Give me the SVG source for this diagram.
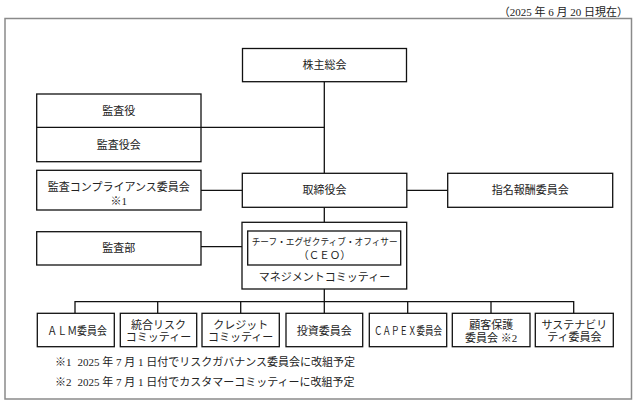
<svg xmlns="http://www.w3.org/2000/svg" width="638" height="404" viewBox="0 0 638 404">
<style>
.bx{fill:#fff;stroke:#111;stroke-width:1.3}
.ln{fill:none;stroke:#111;stroke-width:1.3}
.fr{fill:#fff;stroke:#8a8a8a;stroke-width:1.5}
text{font-family:"Liberation Serif","Noto Sans CJK JP",serif;font-size:11px;fill:#222}
.c{text-anchor:middle}
.j{font-family:"Noto Sans CJK JP",sans-serif}
</style>
<rect width="638" height="404" fill="#fff"/>
<text x="628" y="15.5" text-anchor="end">（2025 年 6 月 20 日現在）</text>
<rect class="fr" x="5" y="18.5" width="626.5" height="380.5"/>

<g id="connectors">
<path class="ln" d="M324.3 81.7V173.3M324.3 207.3V222.3M324.3 289V313.3"/>
<path class="ln" d="M201 127.3H324.3"/>
<path class="ln" d="M201 190.3H242.3M406.8 190.3H447.7"/>
<path class="ln" d="M201 246.7H247.7"/>
<path class="ln" d="M75 313.3V301.7H573.7V313.3M157.7 301.7V313.3M240.7 301.7V313.3M407.7 301.7V313.3M491 301.7V313.3"/>
</g>

<g id="kabunushi">
<rect class="bx" x="242.5" y="48.5" width="164" height="33.2"/>
<text class="c" x="324.5" y="69">株主総会</text>
</g>

<g id="kansayaku">
<rect class="bx" x="36.7" y="94" width="164.3" height="67.7"/>
<path class="ln" d="M36.7 127.3H201"/>
<text class="c" x="118.8" y="115">監査役</text>
<text class="c" x="118.8" y="148.5">監査役会</text>
</g>

<g id="compliance">
<rect class="bx" x="36.7" y="170.3" width="164.3" height="39.7"/>
<text class="c" x="118.8" y="190.5">監査コンプライアンス委員会</text>
<text class="c" x="118.8" y="205"><tspan class="j">※</tspan>1</text>
</g>

<g id="torishimariyaku">
<rect class="bx" x="242.3" y="173.3" width="164.5" height="34"/>
<text class="c" x="324.5" y="194.3">取締役会</text>
</g>

<g id="shimei">
<rect class="bx" x="447.7" y="173.3" width="165" height="34"/>
<text class="c" x="530.2" y="194.3">指名報酬委員会</text>
</g>

<g id="kansabu">
<rect class="bx" x="36.7" y="231.7" width="164.3" height="33.3"/>
<text class="c" x="118.8" y="252">監査部</text>
</g>

<g id="management">
<rect class="bx" x="242" y="222.3" width="164.7" height="66.7"/>
<rect class="bx" x="247.7" y="231" width="153" height="34"/>
<text x="251.7" y="245" style="font-size:9px" textLength="146" lengthAdjust="spacingAndGlyphs">チーフ・エグゼクティブ・オフィサー</text>
<text class="c" x="324.5" y="259" style="font-size:10.5px">（ＣＥＯ）</text>
<text class="c" x="324.5" y="281.3">マネジメントコミッティー</text>
</g>

<g id="alm">
<rect class="bx" x="37.3" y="313.3" width="77" height="33.4"/>
<text x="47.3" y="334.5" textLength="59.5" lengthAdjust="spacingAndGlyphs">ＡＬＭ委員会</text>
</g>

<g id="togo">
<rect class="bx" x="120.3" y="313.3" width="76.4" height="33.4"/>
<text class="c" x="158.5" y="329">統合リスク</text>
<text class="c" x="158.5" y="341">コミッティー</text>
</g>

<g id="credit">
<rect class="bx" x="202" y="313.3" width="77.3" height="33.4"/>
<text class="c" x="240.7" y="329">クレジット</text>
<text class="c" x="240.7" y="341">コミッティー</text>
</g>

<g id="toshi">
<rect class="bx" x="286" y="313.3" width="76.7" height="33.4"/>
<text class="c" x="324.3" y="334.5">投資委員会</text>
</g>

<g id="capex">
<rect class="bx" x="369.3" y="313.3" width="77.4" height="33.4"/>
<text x="374" y="334.5" textLength="68" lengthAdjust="spacingAndGlyphs">ＣＡＰＥＸ委員会</text>
</g>

<g id="kokyaku">
<rect class="bx" x="452.3" y="313.3" width="77.7" height="33.4"/>
<text class="c" x="491.2" y="328.5">顧客保護</text>
<text class="c" x="491.2" y="342">委員会 <tspan class="j">※</tspan>2</text>
</g>

<g id="sustainability">
<rect class="bx" x="535.3" y="313.3" width="78" height="33.4"/>
<text class="c" x="574.3" y="329">サステナビリ</text>
<text class="c" x="574.3" y="341">ティ委員会</text>
</g>

<g id="notes">
<text x="55" y="366.3"><tspan class="j">※</tspan>1<tspan dx="6">2025 年 7 月 1 日付でリスクガバナンス委員会に改組予定</tspan></text>
<text x="55" y="385.7"><tspan class="j">※</tspan>2<tspan dx="6">2025 年 7 月 1 日付でカスタマーコミッティーに改組予定</tspan></text>
</g>
</svg>
